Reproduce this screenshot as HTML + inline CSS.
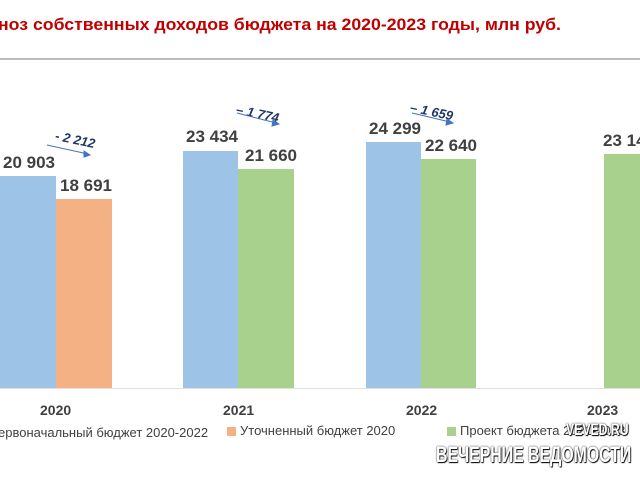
<!DOCTYPE html>
<html><head><meta charset="utf-8"><style>
body{margin:0;width:640px;height:480px;background:#fff;position:relative;overflow:hidden;font-family:"Liberation Sans","DejaVu Sans",sans-serif}
.a{position:absolute}
.t{left:-2px;top:15px;color:#c00000;font-size:17px;font-weight:bold;white-space:nowrap;transform:scaleX(1.04);transform-origin:left}
.v{font-size:17px;font-weight:bold;color:#404040;white-space:nowrap}
.y{font-size:14px;font-weight:bold;color:#404040}
.l{font-size:13px;color:#404040;white-space:nowrap}
.d{font-size:13px;font-weight:bold;font-style:italic;color:#1f3864;white-space:nowrap;transform:rotate(12deg)}
</style></head><body>
<div class="a t">ноз собственных доходов бюджета на 2020-2023 годы, млн руб.</div>
<div class="a" style="left:0;top:58px;width:640px;height:2px;background:#bdbdbd"></div>
<div class="a" style="left:0;top:388px;width:640px;height:1px;background:#e0e0e0"></div>
<div class="a" style="left:0;top:176px;width:56px;height:212px;background:#9dc3e6"></div>
<div class="a" style="left:56px;top:199px;width:56px;height:189px;background:#f4b183"></div>
<div class="a" style="left:183px;top:151px;width:55px;height:237px;background:#9dc3e6"></div>
<div class="a" style="left:238px;top:169px;width:56px;height:219px;background:#a9d18e"></div>
<div class="a" style="left:366px;top:142px;width:55px;height:246px;background:#9dc3e6"></div>
<div class="a" style="left:421px;top:159px;width:55px;height:229px;background:#a9d18e"></div>
<div class="a" style="left:604px;top:154px;width:36px;height:234px;background:#a9d18e"></div>
<div class="a v" style="left:3px;top:153px">20 903</div>
<div class="a v" style="left:60px;top:176px">18 691</div>
<div class="a v" style="left:186px;top:127px">23 434</div>
<div class="a v" style="left:245px;top:146px">21 660</div>
<div class="a v" style="left:369px;top:119px">24 299</div>
<div class="a v" style="left:425px;top:136px">22 640</div>
<div class="a v" style="left:603px;top:131px">23 14</div>
<div class="a d" style="left:55px;top:132px">- 2 212</div>
<div class="a d" style="left:236px;top:106px">– 1 774</div>
<div class="a d" style="left:410px;top:104px">– 1 659</div>
<svg class="a" style="left:0;top:0" width="640" height="480"><g stroke="#4472c4" fill="#4472c4" stroke-width="1">
<line x1="47" y1="145" x2="88" y2="154"/><polygon points="90,155 84,151 84,157"/>
<line x1="237" y1="113" x2="276" y2="123"/><polygon points="279,124 273,120 272,126"/>
<line x1="412" y1="113" x2="450" y2="122"/><polygon points="453,123 447,119 446,125"/></g></svg>
<div class="a y" style="left:40px;top:402px">2020</div>
<div class="a y" style="left:223px;top:402px">2021</div>
<div class="a y" style="left:406px;top:402px">2022</div>
<div class="a y" style="left:587px;top:402px">2023</div>
<div class="a l" style="left:-2px;top:425px">ервоначальный бюджет 2020-2022</div>
<div class="a" style="left:227px;top:427px;width:9px;height:9px;background:#f4b183"></div>
<div class="a l" style="left:240px;top:423px">Уточненный бюджет 2020</div>
<div class="a" style="left:447px;top:427px;width:9px;height:9px;background:#a9d18e"></div>
<div class="a l" style="left:460px;top:423px">Проект бюджета 2021-2023</div>
<div class="a" style="left:566px;top:420px;font-size:17px;font-weight:bold;color:#fff;text-shadow:0 0 2px #000,1px 1px 1px #000;transform:scaleX(0.72);transform-origin:left;white-space:nowrap">VEVED.RU</div>
<div class="a" style="left:436px;top:442px;font-size:22px;font-weight:bold;color:#fff;text-shadow:0 0 2px #000,1px 1px 1px #000;white-space:nowrap;transform:scaleX(0.72);transform-origin:left">ВЕЧЕРНИЕ ВЕДОМОСТИ</div>
</body></html>
